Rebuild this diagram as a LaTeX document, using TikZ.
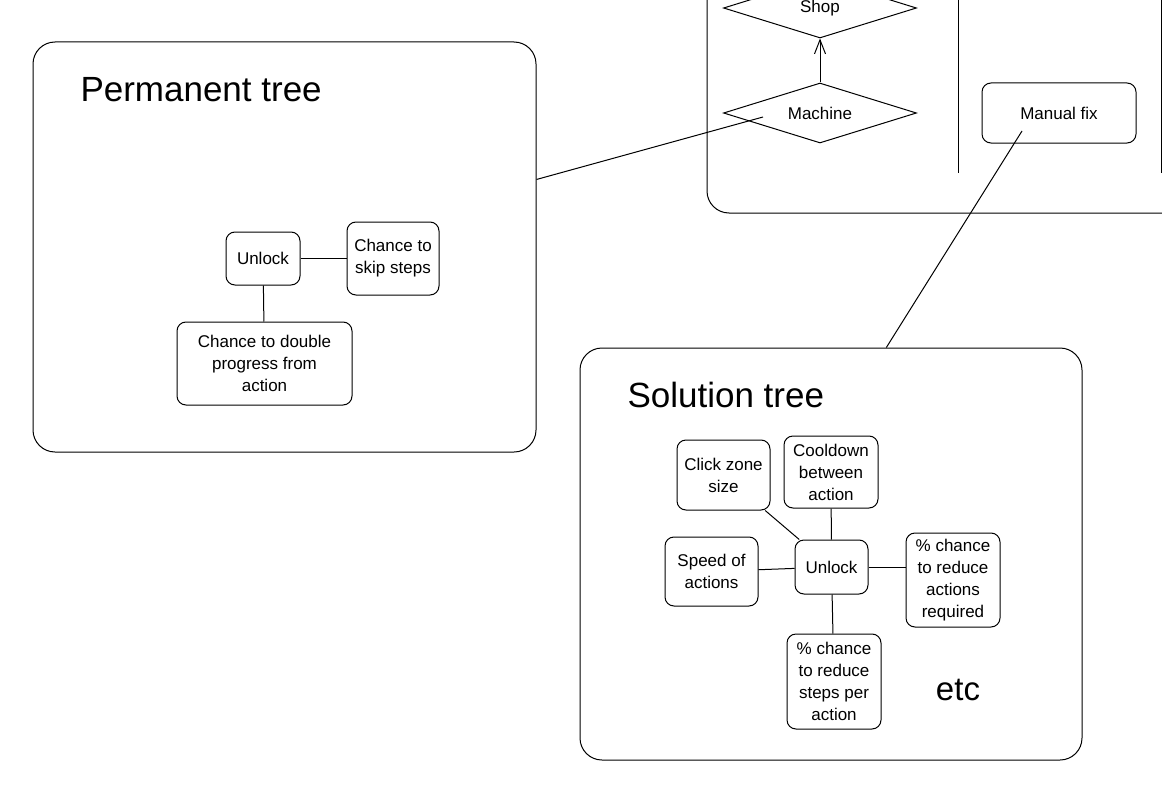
\documentclass[tikz,border=0pt]{standalone}
\usepackage{fontspec}
\setmainfont{Liberation Sans}
\usetikzlibrary{arrows.meta}
\usetikzlibrary{shapes.geometric}
\usetikzlibrary{positioning}

\begin{document}
\begin{tikzpicture}[x=1pt,y=-1pt,line width=1pt,
        box/.style={draw,rounded corners=9pt,align=center,inner sep=1pt,font=\fontsize{17}{22}\selectfont},
        frame/.style={draw,rounded corners=22pt},
        gate/.style={draw,diamond,aspect=3.2,inner sep=0pt,minimum width=193pt,minimum height=60pt,font=\fontsize{17}{22}\selectfont},
        title/.style={anchor=west,inner sep=0pt,font=\fontsize{35}{40}\selectfont}]
        \useasboundingbox (0,0) rectangle (1162,800);
        % permanent tree
        \node [frame,minimum width=503pt,minimum height=410pt] (perm) at (284.5,247) {};
        \node [title] (permt) at (80,90) {Permanent tree};
        \node [box,minimum width=74pt,minimum height=53pt] (u1) at (263,258.5) {Unlock};
        \node [box,minimum width=92pt,minimum height=73pt] (skip) at (393,258.5) {Chance to\\skip steps};
        \node [box,minimum width=175pt,minimum height=83pt] (dbl) at (264.5,363.5) {Chance to double\\progress from\\action};
        % upgrades panel
        \node [frame,minimum width=493pt,minimum height=313pt] (panel) at (953.5,56.5) {};
        \draw (958,-5) -- (958,173);
        \draw (1161,-5) -- (1161,173);
        \node [gate] (shop) at (820,8) {Shop};
        \node [gate] (mach) at (820,113) {Machine};
        \node [box,minimum width=154pt,minimum height=60pt] (fix) at (1059,113) {Manual fix};
        \coordinate (machpt) at (763,117);
        \coordinate (fixpt) at (1022,131);
        % solution tree
        \node [frame,minimum width=502pt,minimum height=412pt] (sol) at (831,554) {};
        \node [title] (solt) at (627,395) {Solution tree};
        \node [box,minimum width=73pt,minimum height=54pt] (u2) at (831.5,567) {Unlock};
        \node [box,minimum width=93pt,minimum height=70pt] (click) at (723.5,475) {Click zone\\size};
        \node [box,minimum width=94pt,minimum height=72pt] (cool) at (831,472) {Cooldown\\between\\action};
        \node [box,minimum width=93pt,minimum height=69pt] (speed) at (711.5,571.5) {Speed of\\actions};
        \node [box,minimum width=94pt,minimum height=94pt] (acts) at (953,580) {\% chance\\to reduce\\actions\\required};
        \node [box,minimum width=94pt,minimum height=95pt] (steps) at (834,681.5) {\% chance\\to reduce\\steps per\\action};
        \node [font=\fontsize{33}{36}\selectfont] (etc) at (958,690) {etc};
        \path[draw]
            (u1) edge (skip)
            (u1) edge (dbl)
            (machpt) edge (perm.15)
            (fixpt) edge (sol.75)
            (click) edge (u2)
            (cool) edge (u2)
            (speed) edge (u2)
            (u2.east) edge (u2.east -| acts.west)
            (u2) edge (steps);
        \path[-{Straight Barb[length=14pt,width=11pt]}]
            (mach.north) edge (shop.south);
\end{tikzpicture}
\end{document}
